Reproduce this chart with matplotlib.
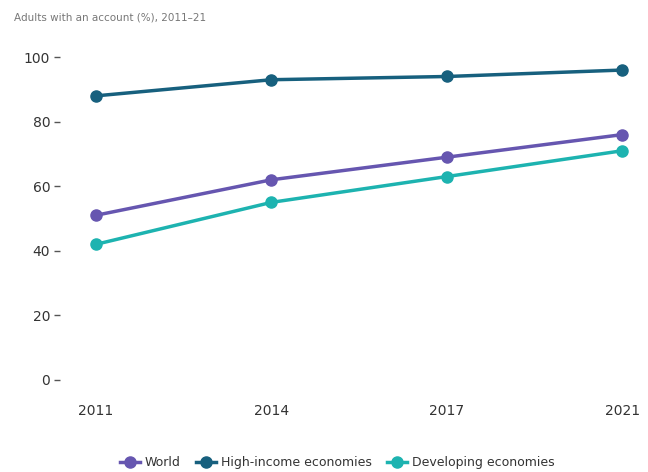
import matplotlib.pyplot as plt

years = ["2011", "2014", "2017", "2021"]
world = [51, 62, 69, 76]
high_income = [88, 93, 94, 96]
developing = [42, 55, 63, 71]

series_names = ["World", "High-income economies", "Developing economies"]
colors = ["#6656b0", "#17607e", "#1db3b0"]

fig = plt.figure(figsize=(6.48, 4.72), dpi=100)
ax = fig.add_axes([0.0926, 0.174, 0.895, 0.72])

x = range(len(years))
for vals, name, c in zip([world, high_income, developing], series_names, colors):
    ax.plot(x, vals, color=c, lw=2.5, marker='o', ms=8, label=name)

ax.set_xlim(-0.205, 3.10)
ax.set_ylim(-3.1, 102.2)
ax.set_xticks(list(x))
ax.set_xticklabels(years)
ax.set_yticks([0, 20, 40, 60, 80, 100])

for s in ax.spines.values():
    s.set_visible(False)
ax.tick_params(axis='x', length=0, pad=10, labelsize=10, labelcolor='#333333')
ax.tick_params(axis='y', length=4, width=1, color='#555555', pad=3, labelsize=10, labelcolor='#333333')

fig.text(0.022, 0.962, "Adults with an account (%), 2011\u201321", fontsize=7.5, color='#777777', va='center')

fig.legend(loc='center', bbox_to_anchor=(0.52, 0.02), ncol=3, frameon=False, fontsize=9,
           handlelength=1.6, columnspacing=1.2, handletextpad=0.4, labelcolor='#333333')

fig.savefig("out.png", dpi=100)
